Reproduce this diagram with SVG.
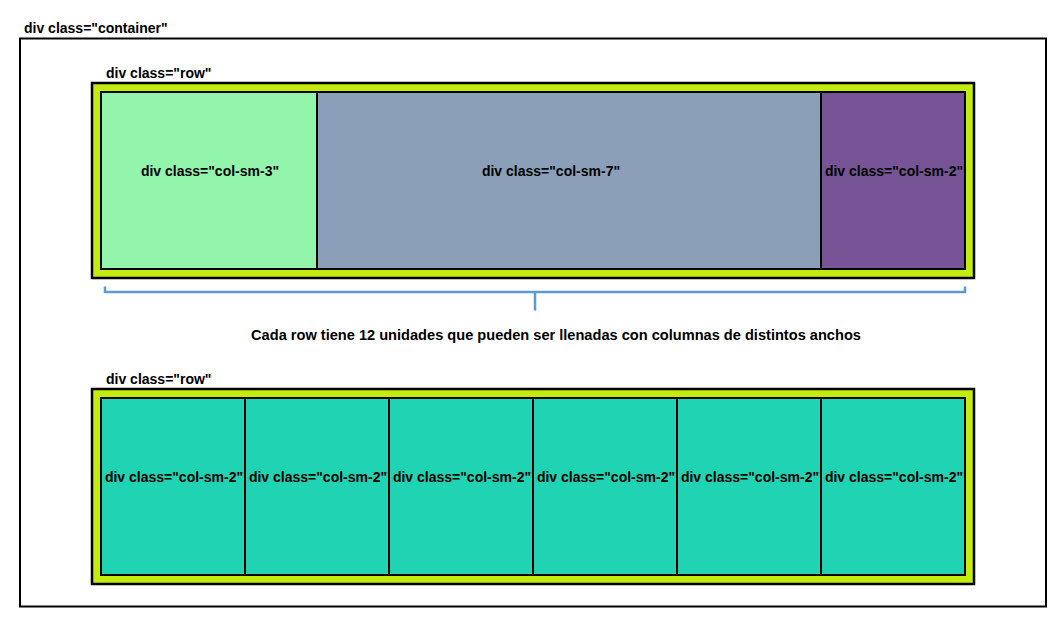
<svg xmlns="http://www.w3.org/2000/svg" width="1064" height="623" viewBox="0 0 1064 623">
<style>
text{font-family:"Liberation Sans",Arial,sans-serif;font-weight:bold;font-size:14px;fill:#000}
.c{text-anchor:middle}
.cap{font-size:14.6px}
.row{fill:#C4EB0E;stroke:#000;stroke-width:2.5}
.col{stroke:#000;stroke-width:2}
.brace{fill:none;stroke:#5B9BD5;stroke-width:2.5}
</style>
<rect x="0" y="0" width="1064" height="623" fill="#fff"/>
<g id="container">
<rect x="20" y="38.5" width="1026" height="568" fill="none" stroke="#000" stroke-width="2"/>
<text x="24" y="33">div class="container"</text>
</g>
<g id="row1">
<text x="106" y="78">div class="row"</text>
<rect class="row" x="92" y="83" width="882" height="195"/>
</g>
<g id="col-sm-3-a">
<rect class="col" x="101" y="92" width="216" height="177" fill="#93F5AC"/>
<text class="c" x="210" y="176">div class="col-sm-3"</text>
</g>
<g id="col-sm-7">
<rect class="col" x="317" y="92" width="504" height="177" fill="#8BA0B8"/>
<text class="c" x="551" y="176">div class="col-sm-7"</text>
</g>
<g id="col-sm-2-a">
<rect class="col" x="821" y="92" width="144" height="177" fill="#765496"/>
<text class="c" x="894" y="176">div class="col-sm-2"</text>
</g>
<g id="connectors">
<path class="brace" d="M105,286.5 V292 H965 V286.5 M535,292 V310.5"/>
</g>
<g id="caption">
<text class="c cap" x="556" y="340">Cada row tiene 12 unidades que pueden ser llenadas con columnas de distintos anchos</text>
</g>
<g id="row2">
<text x="106" y="384">div class="row"</text>
<rect class="row" x="92" y="389" width="882" height="195"/>
</g>
<g id="r2c1"><rect class="col" x="101" y="398" width="144" height="177" fill="#20D3B2"/><text class="c" x="174" y="482">div class="col-sm-2"</text></g>
<g id="r2c2"><rect class="col" x="245" y="398" width="144" height="177" fill="#20D3B2"/><text class="c" x="318" y="482">div class="col-sm-2"</text></g>
<g id="r2c3"><rect class="col" x="389" y="398" width="144" height="177" fill="#20D3B2"/><text class="c" x="462" y="482">div class="col-sm-2"</text></g>
<g id="r2c4"><rect class="col" x="533" y="398" width="144" height="177" fill="#20D3B2"/><text class="c" x="606" y="482">div class="col-sm-2"</text></g>
<g id="r2c5"><rect class="col" x="677" y="398" width="144" height="177" fill="#20D3B2"/><text class="c" x="750" y="482">div class="col-sm-2"</text></g>
<g id="r2c6"><rect class="col" x="821" y="398" width="144" height="177" fill="#20D3B2"/><text class="c" x="894" y="482">div class="col-sm-2"</text></g>
</svg>
